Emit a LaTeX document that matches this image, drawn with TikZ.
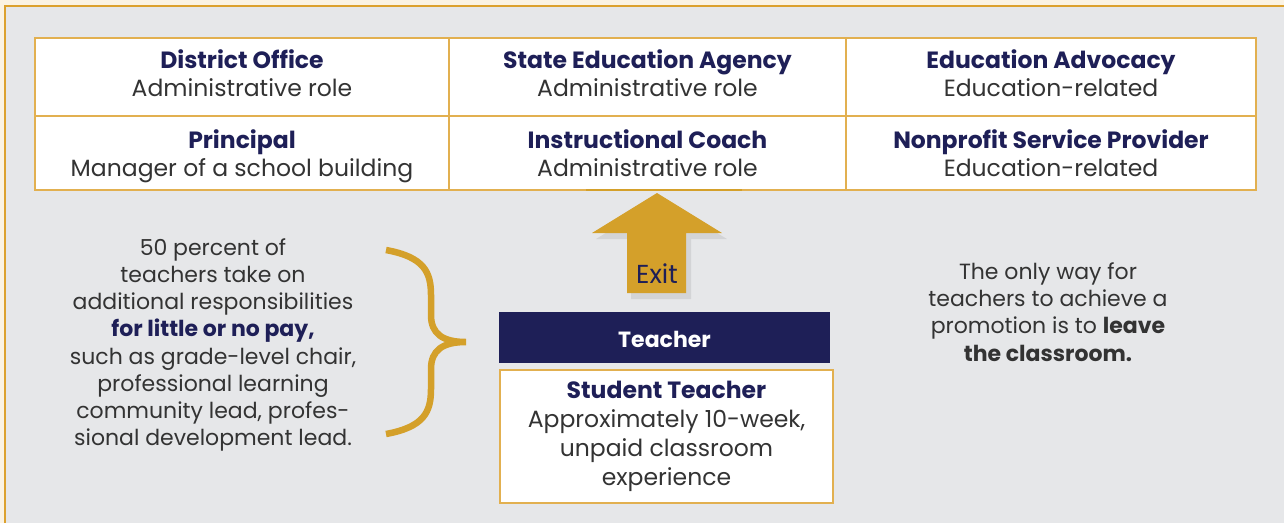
\documentclass[tikz,border=0pt]{standalone}
\usepackage{fontspec}
\setmainfont{Poppins}

\definecolor{cream}{HTML}{FBF3E3}
\definecolor{panel}{HTML}{E6E7E9}
\definecolor{framegold}{HTML}{DCA12E}
\definecolor{tablegold}{HTML}{E2B050}
\definecolor{arrowgold}{HTML}{D4A02A}
\definecolor{navy}{HTML}{1E1F57}
\definecolor{bodygrey}{HTML}{333333}

\newcommand\rolehead[1]{{\bfseries\color{navy}#1}}
\newcommand\lowstrut{\rule{0pt}{27.6pt}}

\tikzset{
  cell/.style={draw=tablegold, line width=1.5pt, fill=white, inner sep=0pt,
    align=center, text=bodygrey, font=\fontsize{23.5}{28}\selectfont},
  note/.style={align=center, text=bodygrey, inner sep=0pt,
    font=\fontsize{22}{27.2}\selectfont},
}

\begin{document}
\begin{tikzpicture}[x=1pt,y=-1pt]
  \useasboundingbox (0,0) rectangle (1284,523);
  \fill[cream] (0,0) rectangle (1284,523);
  \fill[panel] (5,6) rectangle (1284,523);
  \draw[framegold, line width=1.5pt] (5,523) -- (5,6) -- (1284,6);

  % table of jobs outside the classroom
  \node[cell, minimum width=414pt, minimum height=78pt] (office) at (242,77)
    {\rolehead{District Office}\strut\\Administrative role\strut};
  \node[cell, minimum width=397pt, minimum height=78pt] (agency) at (647.5,77)
    {\rolehead{State Education Agency}\strut\\Administrative role\strut};
  \node[cell, minimum width=410pt, minimum height=78pt] (advocacy) at (1051,77)
    {\rolehead{Education Advocacy}\strut\\Education-related\strut};
  \node[cell, minimum width=414pt, minimum height=74pt] (principal) at (242,153)
    {\lowstrut\rolehead{Principal}\strut\\Manager of a school building\strut};
  \node[cell, minimum width=397pt, minimum height=74pt] (coach) at (647.5,153)
    {\lowstrut\rolehead{Instructional Coach}\strut\\Administrative role\strut};
  \node[cell, minimum width=410pt, minimum height=74pt] (nonprofit) at (1051,153)
    {\lowstrut\rolehead{Nonprofit Service Provider}\strut\\Education-related\strut};
  \draw[arrowgold, line width=2.5pt] (586,190) -- (742,190);

  % exit arrow with its shadow
  \fill[black, opacity=0.08]
    (661,199) -- (727,239) -- (691,239) -- (691,299) -- (631,299)
    -- (631,239) -- (596,239) -- cycle;
  \fill[arrowgold]
    (657,193) -- (722,233) -- (686,233) -- (686,293) -- (627,293)
    -- (627,233) -- (592,233) -- cycle;
  \node[text=navy, font=\fontsize{26}{30}\selectfont] (exit) at (657,274) {Exit};

  % career ladder
  \node[fill=navy, text=white, font=\fontsize{22}{26}\selectfont\bfseries,
    minimum width=331pt, minimum height=51pt, inner sep=0pt,
    text height=24pt, text depth=3.6pt] (teacher) at (664.5,337.5)
    {Teacher};
  \node[cell, minimum width=333pt, minimum height=133pt,
    font=\fontsize{23.5}{29}\selectfont] (student) at (666.5,436.5)
    {\rolehead{Student Teacher}\\Approximately 10-week,\\unpaid classroom\\experience};

  % side notes
  \node[note] (extra) at (213,345)
    {50 percent of\\teachers take on\\additional responsibilities\\
     \rolehead{for little or no pay,}\\such as grade-level chair,\\
     professional learning\\community lead, profes-\\sional development lead.};
  \draw[arrowgold, line width=6.5pt]
    (386,250) .. controls (424,257) and (431,272) .. (431,295) -- (431,315)
    .. controls (431,334) and (443,342) .. (466,342)
    .. controls (443,342) and (431,350) .. (431,369) -- (431,389)
    .. controls (431,412) and (424,427) .. (386,434);
  \node[note] (onlyway) at (1048,312)
    {The only way for\\teachers to achieve a\\promotion is to \textbf{leave}\\
     \textbf{the classroom.}};
\end{tikzpicture}
\end{document}
